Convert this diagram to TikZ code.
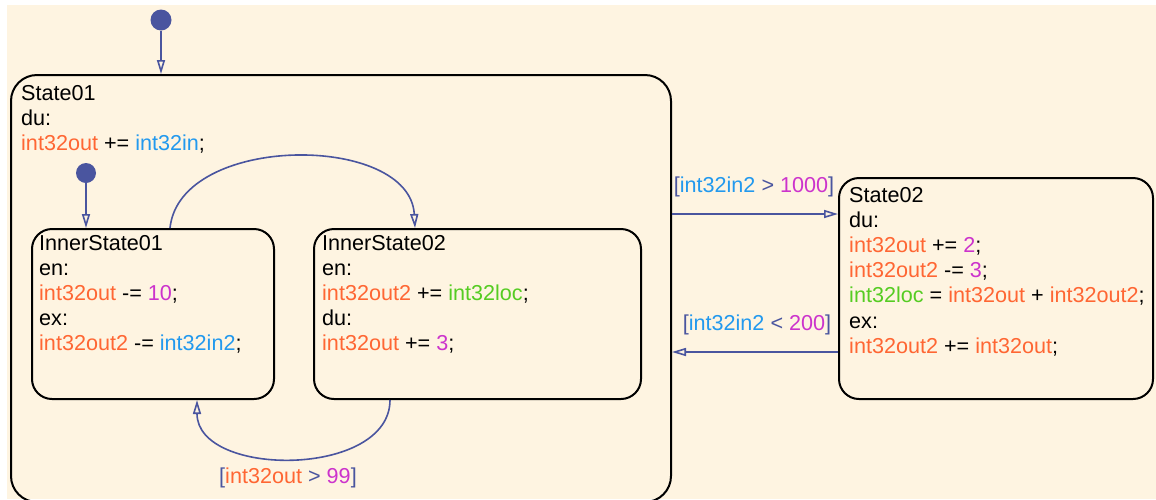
\documentclass[tikz,border=0pt]{standalone}
\usepackage{fontspec}
\setmainfont{Liberation Sans}
\usetikzlibrary{arrows.meta}
\definecolor{chartbg}{HTML}{FEF4E1}
\definecolor{trans}{HTML}{4A559F}
\definecolor{outvar}{HTML}{FF6633}
\definecolor{invar}{HTML}{2299EE}
\definecolor{numval}{HTML}{CC33CC}
\definecolor{locvar}{HTML}{55CC22}
\newcommand{\outv}[1]{\textcolor{outvar}{#1}}
\newcommand{\inv}[1]{\textcolor{invar}{#1}}
\newcommand{\numv}[1]{\textcolor{numval}{#1}}
\newcommand{\locv}[1]{\textcolor{locvar}{#1}}

\begin{document}
\begin{tikzpicture}[x=1pt,y=-1pt,>={Triangle[open,length=14pt,width=8pt]},
			font=\fontsize{21.6}{25.2}\selectfont,
			statebox/.style={draw,line width=2pt,rounded corners=20pt,anchor=north west,inner sep=0pt},
			dot/.style={circle,fill=trans,inner sep=0pt,minimum size=21pt},
			trans/.style={draw=trans,line width=1.6pt,->},
			code/.style={anchor=base west,align=left,inner sep=0pt},
			guard/.style={anchor=base,inner sep=0pt,text=trans}]
			\useasboundingbox (0,0) rectangle (1156,499);
			\fill[chartbg] (7,5) rectangle (1156,499);

			\node[statebox,rounded corners=26pt,minimum width=660pt,minimum height=427pt] (s1) at (10,74) {};
			\node[statebox,minimum width=242pt,minimum height=170pt] (is1) at (31,228) {};
			\node[statebox,minimum width=327pt,minimum height=170pt] (is2) at (313,228) {};
			\node[statebox,minimum width=314pt,minimum height=221pt] (s2) at (838,177) {};

			\node[code] (s1txt) at (21,150.4) {State01\\du:\\\outv{int32out} += \inv{int32in};};
			\node[code] (is1txt) at (39,350.8) {InnerState01\\en:\\\outv{int32out} -= \numv{10};\\ex:\\\outv{int32out2} -= \inv{int32in2};};
			\node[code] (is2txt) at (322,350.8) {InnerState02\\en:\\\outv{int32out2} += \locv{int32loc};\\du:\\\outv{int32out} += \numv{3};};
			\node[code] (s2txt) at (849,353.2) {State02\\du:\\\outv{int32out} += \numv{2};\\\outv{int32out2} -= \numv{3};\\\locv{int32loc} = \outv{int32out} + \outv{int32out2};\\ex:\\\outv{int32out2} += \outv{int32out};};

			\node[dot] (d1) at (161,20) {};
			\draw[trans] (d1) -- (d1 |- s1.north);
			\node[dot,minimum size=20pt] (d2) at (86,173) {};
			\draw[trans] (d2) -- (d2 |- is1.north);

			\draw[trans] ([xshift=139pt]is1.north west) .. controls +(10,-95) and +(-5,-95) .. ([xshift=102pt]is2.north west);
			\draw[trans] ([xshift=77pt]is2.south west) .. controls +(0,78) and +(0,78) .. ([xshift=166pt]is1.south west);
			\node[guard] (g1) at (288,483) {[\outv{int32out} > \numv{99}]};

			\coordinate (t12) at (0,214);
			\coordinate (t21) at (0,352);
			\draw[trans] (s1.east |- t12) -- (s2.west |- t12);
			\draw[trans] (s2.west |- t21) -- (s1.east |- t21);
			\node[guard] (g12) at (754,192) {[\inv{int32in2} > \numv{1000}]};
			\node[guard] (g21) at (757,330) {[\inv{int32in2} < \numv{200}]};
		\end{tikzpicture}
\end{document}
